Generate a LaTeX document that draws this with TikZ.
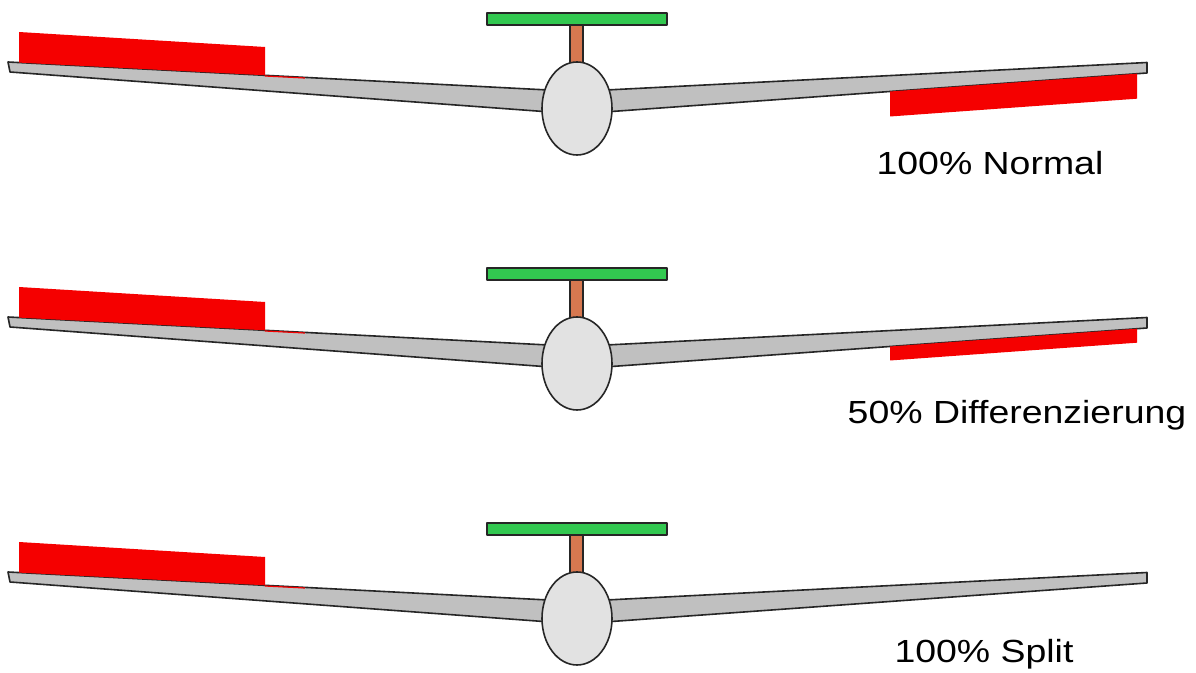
\documentclass[tikz,border=0pt]{standalone}
\usepackage{fontspec}
\newfontfamily\lblfont[FakeStretch=1.17]{Liberation Sans}
\definecolor{wing}{RGB}{192,192,192}
\definecolor{body}{RGB}{226,226,226}
\definecolor{stab}{RGB}{50,200,80}
\definecolor{fin}{RGB}{215,120,80}
\definecolor{aileron}{RGB}{245,0,0}
\begin{document}
\begin{tikzpicture}[x=0.5pt,y=-0.5pt]
  \tikzset{outline/.style={draw=black!85, line width=0.8pt, line join=round},
           captiontext/.style={font=\lblfont\fontsize{16}{19}\selectfont, anchor=base}}
  \useasboundingbox (0,0) rectangle (1196,673);
  \foreach \dy/\ail/\lx/\ly/\txt in {0/25/990/175/{100\% Normal}, 255/14/1017/424/{50\% Differenzierung}, 510/0/984/663/{100\% Split}}{
    \begin{scope}[shift={(0,\dy)}]
      \draw[outline, fill=wing] (8,62) -- (577,91.5) -- (1147,62.5) -- (1147,73) -- (577,114) -- (10,72) -- cycle;
      \fill[aileron] (19,32) -- (265,47) -- (265,75.3) -- (19,62.6) -- cycle;
      \draw[aileron, line width=0.6pt] (265,76) -- (305,78);
      \ifnum\ail>0
        \fill[aileron] (890,91.5) -- (1137,73.7) -- (1137,73.7+\ail) -- (890,91.5+\ail) -- cycle;
      \fi
      \draw[outline, fill=fin] (570,25) rectangle (583,63);
      \draw[outline, fill=stab] (487,13) rectangle (667,25);
      \draw[outline, fill=body] (577,108.5) ellipse [x radius=35, y radius=46.5];
      \node[captiontext] (cap\dy) at (\lx,\ly-\dy) {\txt};
    \end{scope}
  }
\end{tikzpicture}
\end{document}
